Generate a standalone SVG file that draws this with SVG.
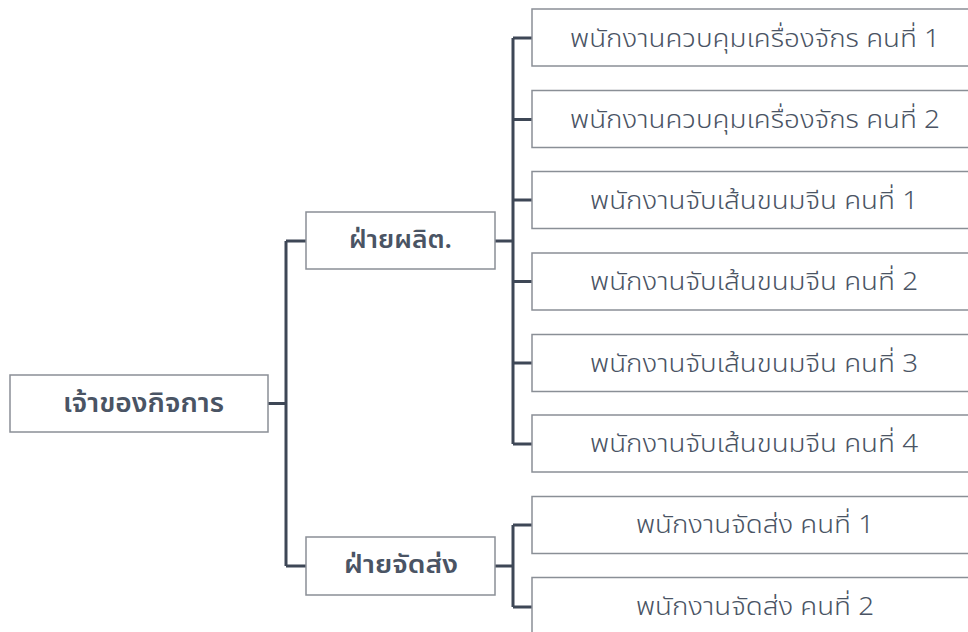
<svg xmlns="http://www.w3.org/2000/svg" width="968" height="632" viewBox="0 0 968 632">
<style>
.box{fill:#fff;stroke:#8a8f96;stroke-width:1.5}
.t{font-family:"Noto Sans Thai","Noto Sans","Liberation Sans",sans-serif;fill:#4a5464;text-anchor:middle;dominant-baseline:central}
.leaf{font-size:25px;font-weight:300}
.mid{font-size:25px;font-weight:600}
.root{font-size:26px;font-weight:600}
.c{fill:none;stroke:#3e4756;stroke-width:3}
</style>
<rect width="968" height="632" fill="#fff"/>
<g id="connectors">
<path class="c" d="M268,403.5H286M286,241V566M286,241H306M286,566H306"/>
<path class="c" d="M495,241H513M513,38V444M513,38H532M513,119.5H532M513,200H532M513,281.5H532M513,363H532M513,444H532"/>
<path class="c" d="M495,566H513M513,525V607M513,525H532M513,607H532"/>
</g>
<g id="root"><rect class="box" x="10" y="375" width="258" height="57"/><text class="t root" x="143.5" y="404" textLength="161" lengthAdjust="spacingAndGlyphs">เจ้าของกิจการ</text></g>
<g id="prod"><rect class="box" x="306" y="212" width="189" height="57"/><text class="t mid" x="400.5" y="240" textLength="103" lengthAdjust="spacingAndGlyphs">ฝ่ายผลิต.</text></g>
<g id="ship"><rect class="box" x="306" y="537" width="189" height="58"/><text class="t mid" x="401" y="565" textLength="114" lengthAdjust="spacingAndGlyphs">ฝ่ายจัดส่ง</text></g>
<g id="leaf1"><rect class="box" x="532" y="9" width="446" height="57"/><text class="t leaf" x="755" y="39" textLength="370" lengthAdjust="spacingAndGlyphs">พนักงานควบคุมเครื่องจักร คนที่ 1</text></g>
<g id="leaf2"><rect class="box" x="532" y="90.5" width="446" height="57"/><text class="t leaf" x="755" y="120" textLength="370" lengthAdjust="spacingAndGlyphs">พนักงานควบคุมเครื่องจักร คนที่ 2</text></g>
<g id="leaf3"><rect class="box" x="532" y="171.5" width="446" height="57"/><text class="t leaf" x="754" y="201" textLength="328" lengthAdjust="spacingAndGlyphs">พนักงานจับเส้นขนมจีน คนที่ 1</text></g>
<g id="leaf4"><rect class="box" x="532" y="253" width="446" height="57"/><text class="t leaf" x="754" y="282" textLength="328" lengthAdjust="spacingAndGlyphs">พนักงานจับเส้นขนมจีน คนที่ 2</text></g>
<g id="leaf5"><rect class="box" x="532" y="334.5" width="446" height="57"/><text class="t leaf" x="754" y="364" textLength="328" lengthAdjust="spacingAndGlyphs">พนักงานจับเส้นขนมจีน คนที่ 3</text></g>
<g id="leaf6"><rect class="box" x="532" y="415" width="446" height="57"/><text class="t leaf" x="754" y="444" textLength="328" lengthAdjust="spacingAndGlyphs">พนักงานจับเส้นขนมจีน คนที่ 4</text></g>
<g id="leaf7"><rect class="box" x="532" y="496.5" width="446" height="57"/><text class="t leaf" x="755" y="525" textLength="238" lengthAdjust="spacingAndGlyphs">พนักงานจัดส่ง คนที่ 1</text></g>
<g id="leaf8"><rect class="box" x="532" y="577.5" width="446" height="57"/><text class="t leaf" x="755" y="607" textLength="238" lengthAdjust="spacingAndGlyphs">พนักงานจัดส่ง คนที่ 2</text></g>
</svg>
